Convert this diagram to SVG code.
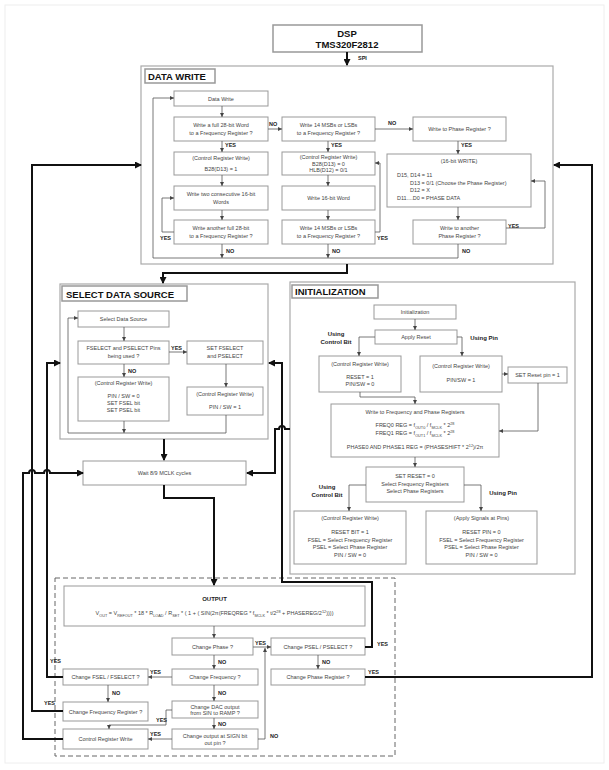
<svg xmlns="http://www.w3.org/2000/svg" width="609" height="770" viewBox="0 0 609 770">
<defs>
<marker id="a" markerUnits="userSpaceOnUse" markerWidth="4" markerHeight="4" refX="4" refY="2" orient="auto"><path d="M0,0 L4,2 L0,4 z" fill="#444"/></marker>
<marker id="A" markerUnits="userSpaceOnUse" markerWidth="7" markerHeight="7" refX="6" refY="3.5" orient="auto"><path d="M0,0 L7,3.5 L0,7 z" fill="#111"/></marker>
<style>
.bx{fill:#fff;stroke:#999;stroke-width:1}
.fr{fill:none;stroke:#aaa;stroke-width:1.2}
.tb{fill:#fff;stroke:#999;stroke-width:1.5}
.t{font-family:"Liberation Sans",Arial,sans-serif;font-size:5.5px;fill:#444;text-anchor:middle}
.tl{font-family:"Liberation Sans",Arial,sans-serif;font-size:5.5px;fill:#444}
.l{font-family:"Liberation Sans",Arial,sans-serif;font-size:5.5px;font-weight:bold;fill:#222}
.lc{font-family:"Liberation Sans",Arial,sans-serif;font-size:6px;font-weight:bold;fill:#222;text-anchor:middle}
.ti{font-family:"Liberation Sans",Arial,sans-serif;font-size:9.5px;font-weight:bold;fill:#111}
.c{fill:none;stroke:#555;stroke-width:0.8;marker-end:url(#a)}
.cn{fill:none;stroke:#555;stroke-width:0.8}
.k{fill:none;stroke:#111;stroke-width:2;marker-end:url(#A)}
.s{font-size:3.8px}
</style>
</defs>
<rect x="0" y="0" width="609" height="770" fill="#fff"/>
<rect x="5" y="5" width="599" height="758" fill="none" stroke="#eee" stroke-width="1"/>

<g id="dsp"><rect class="tb" x="273" y="25" width="149" height="27"/><text class="ti" x="347" y="37" text-anchor="middle">DSP</text><text class="ti" x="347" y="48" text-anchor="middle">TMS320F2812</text></g>

<g id="data-write-frame"><rect class="fr" x="141" y="66" width="412" height="198"/><rect class="tb" x="145" y="69" width="70" height="14"/><text class="ti" x="148" y="80" font-size="9">DATA WRITE</text></g>
<g id="dw-start"><rect class="bx" x="174" y="91" width="94" height="15"/><text class="t" x="221" y="100.5">Data Write</text></g>
<g id="dw-q1"><rect class="bx" x="174" y="117" width="94" height="24"/><text class="t" x="221" y="127">Write a full 28-bit Word</text><text class="t" x="221" y="134.5">to a Frequency Register ?</text></g>
<g id="dw-q2"><rect class="bx" x="282" y="117" width="93" height="24"/><text class="t" x="328.5" y="127">Write 14 MSBs or LSBs</text><text class="t" x="328.5" y="134.5">to a Frequency Register ?</text></g>
<g id="dw-q3"><rect class="bx" x="413" y="117" width="93" height="24"/><text class="t" x="459.5" y="131">Write to Phase Register ?</text></g>
<g id="dw-c1"><rect class="bx" x="174" y="152" width="94" height="23"/><text class="t" x="221" y="159.5">(Control Register Write)</text><text class="t" x="221" y="171">B28(D13) = 1</text></g>
<g id="dw-c2"><rect class="bx" x="282" y="152" width="93" height="23"/><text class="t" x="328.5" y="159">(Control Register Write)</text><text class="t" x="328.5" y="165.5">B28(D13) = 0</text><text class="t" x="328.5" y="172">HLB(D12) = 0/1</text></g>
<g id="dw-16bit"><rect class="bx" x="387" y="154" width="144" height="53"/><text class="t" x="459" y="163">(16-bit WRITE)</text><text class="tl" x="397" y="177">D15, D14 = 11</text><text class="tl" x="410" y="184.5">D13 = 0/1 (Choose the Phase Register)</text><text class="tl" x="410" y="192">D12 = X</text><text class="tl" x="397" y="199.5">D11....D0 = PHASE DATA</text></g>
<g id="dw-w1"><rect class="bx" x="174" y="186" width="94" height="24"/><text class="t" x="221" y="196">Write two consecutive 16-bit</text><text class="t" x="221" y="203.5">Words</text></g>
<g id="dw-w2"><rect class="bx" x="282" y="186" width="93" height="24"/><text class="t" x="328.5" y="200">Write 16-bit Word</text></g>
<g id="dw-a1"><rect class="bx" x="174" y="220" width="94" height="24"/><text class="t" x="221" y="230">Write another full 28-bit</text><text class="t" x="221" y="237.5">to a Frequency Register ?</text></g>
<g id="dw-a2"><rect class="bx" x="282" y="220" width="93" height="24"/><text class="t" x="328.5" y="230">Write 14 MSBs or LSBs</text><text class="t" x="328.5" y="237.5">to a Frequency Register ?</text></g>
<g id="dw-a3"><rect class="bx" x="413" y="220" width="93" height="24"/><text class="t" x="459.5" y="230">Write to another</text><text class="t" x="459.5" y="237.5">Phase Register ?</text></g>

<g id="sds-frame"><rect class="fr" x="60" y="284" width="208" height="155"/><rect class="tb" x="62" y="286" width="125" height="15"/><text class="ti" x="66" y="297.5" font-size="9">SELECT DATA SOURCE</text></g>
<g id="sds-start"><rect class="bx" x="78" y="311" width="91" height="16"/><text class="t" x="123.5" y="321">Select Data Source</text></g>
<g id="sds-q"><rect class="bx" x="78" y="341" width="91" height="23"/><text class="t" x="123.5" y="350">FSELECT and PSELECT Pins</text><text class="t" x="123.5" y="357.5">being used ?</text></g>
<g id="sds-set"><rect class="bx" x="187" y="341" width="76" height="23"/><text class="t" x="225" y="350">SET FSELECT</text><text class="t" x="225" y="357.5">and PSELECT</text></g>
<g id="sds-crw0"><rect class="bx" x="78" y="377" width="91" height="44"/><text class="t" x="123.5" y="385">(Control Register Write)</text><text class="t" x="123.5" y="398">PIN / SW = 0</text><text class="t" x="123.5" y="405">SET FSEL bit</text><text class="t" x="123.5" y="412">SET PSEL bit</text></g>
<g id="sds-crw1"><rect class="bx" x="187" y="387" width="76" height="28"/><text class="t" x="225" y="395.5">(Control Register Write)</text><text class="t" x="225" y="408.5">PIN / SW = 1</text></g>

<g id="wait"><rect class="bx" x="83" y="461" width="163" height="24"/><text class="t" x="164.5" y="475">Wait 8/9 MCLK cycles</text></g>

<g id="init-frame"><rect class="fr" x="290" y="282" width="285" height="292"/><rect class="tb" x="292" y="285" width="86" height="13"/><text class="ti" x="295" y="295" font-size="8.5">INITIALIZATION</text></g>
<g id="init-start"><rect class="bx" x="374" y="305" width="82" height="14"/><text class="t" x="415" y="314">Initialization</text></g>
<g id="init-reset"><rect class="bx" x="375" y="330" width="82" height="14"/><text class="t" x="416" y="339">Apply Reset</text></g>
<g id="init-crA"><rect class="bx" x="319" y="356" width="82" height="36"/><text class="t" x="360" y="365.5">(Control Register Write)</text><text class="t" x="360" y="379">RESET = 1</text><text class="t" x="360" y="386">PIN/SW = 0</text></g>
<g id="init-crB"><rect class="bx" x="420" y="356" width="82" height="36"/><text class="t" x="461" y="368">(Control Register Write)</text><text class="t" x="461" y="382">PIN/SW = 1</text></g>
<g id="init-pin"><rect class="bx" x="508" y="367" width="59" height="16"/><text class="t" x="537.5" y="377">SET Reset pin = 1</text></g>
<g id="init-write"><rect class="bx" x="331" y="404" width="168" height="53"/><text class="t" x="415" y="414">Write to Frequency and Phase Registers</text>
<text class="t" x="415" y="427">FREQ0  REG = f<tspan class="s" baseline-shift="sub">OUT0</tspan> / f<tspan class="s" baseline-shift="sub">MCLK</tspan> * 2<tspan class="s" baseline-shift="super">28</tspan></text>
<text class="t" x="415" y="434.5">FREQ1  REG = f<tspan class="s" baseline-shift="sub">OUT1</tspan> / f<tspan class="s" baseline-shift="sub">MCLK</tspan> * 2<tspan class="s" baseline-shift="super">28</tspan></text>
<text class="t" x="415" y="449">PHASE0 AND PHASE1 REG = (PHASESHIFT * 2<tspan class="s" baseline-shift="super">12</tspan>)/2π</text></g>
<g id="init-set0"><rect class="bx" x="366" y="467" width="98" height="35"/><text class="t" x="415" y="478">SET RESET = 0</text><text class="t" x="415" y="485.5">Select Frequency Registers</text><text class="t" x="415" y="493">Select Phase Registers</text></g>
<g id="init-crC"><rect class="bx" x="294" y="511" width="112" height="53"/><text class="t" x="350" y="520">(Control Register Write)</text><text class="t" x="350" y="534">RESET BIT = 1</text><text class="t" x="350" y="541.5">FSEL = Select Frequency Register</text><text class="t" x="350" y="549">PSEL = Select Phase Register</text><text class="t" x="350" y="556.5">PIN / SW = 0</text></g>
<g id="init-pins"><rect class="bx" x="426" y="511" width="111" height="53"/><text class="t" x="481.5" y="520">(Apply Signals at Pins)</text><text class="t" x="481.5" y="534">RESET PIN = 0</text><text class="t" x="481.5" y="541.5">FSEL = Select Frequency Register</text><text class="t" x="481.5" y="549">PSEL = Select Phase Register</text><text class="t" x="481.5" y="556.5">PIN / SW = 0</text></g>

<g id="output-frame"><rect x="55" y="578" width="340" height="178" fill="none" stroke="#666" stroke-width="1" stroke-dasharray="5,3"/></g>
<g id="output"><rect class="bx" x="64" y="586" width="301" height="40"/><text class="lc" x="214.5" y="601">OUTPUT</text>
<text class="t" x="214.5" y="614.5">V<tspan class="s" baseline-shift="sub">OUT</tspan> = V<tspan class="s" baseline-shift="sub">REFOUT</tspan> * 18 * R<tspan class="s" baseline-shift="sub">LOAD</tspan> / R<tspan class="s" baseline-shift="sub">SET</tspan> * ( 1 + ( SIN(2π(FREQREG * f<tspan class="s" baseline-shift="sub">MCLK</tspan> * t/2<tspan class="s" baseline-shift="super">28</tspan> + PHASEREG/2<tspan class="s" baseline-shift="super">12</tspan>))))</text></g>
<g id="out-phase"><rect class="bx" x="172" y="638" width="81" height="17"/><text class="t" x="212.5" y="648.5">Change Phase ?</text></g>
<g id="out-psel"><rect class="bx" x="271" y="638" width="94" height="17"/><text class="t" x="318" y="648.5">Change PSEL / PSELECT ?</text></g>
<g id="out-freq"><rect class="bx" x="172" y="669" width="86" height="16"/><text class="t" x="215" y="679">Change Frequency ?</text></g>
<g id="out-phreg"><rect class="bx" x="271" y="669" width="94" height="16"/><text class="t" x="318" y="679">Change Phase Register ?</text></g>
<g id="out-fsel"><rect class="bx" x="63" y="669" width="85" height="16"/><text class="t" x="105.5" y="679">Change FSEL / FSELECT ?</text></g>
<g id="out-freqreg"><rect class="bx" x="63" y="702" width="85" height="19"/><text class="t" x="105.5" y="713.5">Change Frequency Register ?</text></g>
<g id="out-dac"><rect class="bx" x="172" y="701" width="86" height="17"/><text class="t" x="215" y="708.5">Change DAC output</text><text class="t" x="215" y="715">from SIN to RAMP ?</text></g>
<g id="out-sign"><rect class="bx" x="172" y="729" width="86" height="20"/><text class="t" x="215" y="737.5">Change output at SIGN bit</text><text class="t" x="215" y="745">out pin ?</text></g>
<g id="out-crw"><rect class="bx" x="63" y="729" width="85" height="20"/><text class="t" x="105.5" y="741">Control Register Write</text></g>

<g id="connectors">
<path class="k" d="M347,52 V65"/>
<text class="l" x="358" y="60" font-size="5">SPI</text>
<!-- data write -->
<path class="c" d="M222,106 V117"/>
<path class="c" d="M268,129 H282"/>
<path class="c" d="M375,129 H413"/>
<path class="c" d="M222,141 V152"/>
<path class="c" d="M328,141 V152"/>
<path class="c" d="M458,141 V154"/>
<path class="c" d="M222,175 V186"/>
<path class="c" d="M328,175 V186"/>
<path class="c" d="M458,207 V220"/>
<path class="c" d="M222,210 V220"/>
<path class="c" d="M328,210 V220"/>
<path class="c" d="M174,232 H162 V198 H174"/>
<path class="c" d="M375,232 H380 V163 H375"/>
<path class="c" d="M506,228 H545 V181 H531"/>
<path class="c" d="M222,244 V258"/>
<path class="c" d="M328,244 V258"/>
<path class="c" d="M458,244 V258 H153 V98 H174"/>
<text class="l" x="269" y="126">NO</text>
<text class="l" x="388" y="125">NO</text>
<text class="l" x="225" y="147">YES</text>
<text class="l" x="331" y="147">YES</text>
<text class="l" x="461" y="147">YES</text>
<text class="l" x="160" y="240">YES</text>
<text class="l" x="377" y="240">YES</text>
<text class="l" x="508" y="228">YES</text>
<text class="l" x="226" y="253">NO</text>
<text class="l" x="332" y="253">NO</text>
<text class="l" x="462" y="253">NO</text>
<path class="k" d="M347,264 V273 H163 V283"/>
<!-- select data source -->
<path class="c" d="M124,327 V341"/>
<path class="c" d="M169,352 H187"/>
<path class="c" d="M124,364 V377"/>
<path class="c" d="M226,364 V387"/>
<path class="c" d="M124,421 V433"/>
<path class="c" d="M226,415 V433 H68 V318 H78"/>
<text class="l" x="171" y="350">YES</text>
<text class="l" x="128" y="373">NO</text>
<path class="k" d="M164,439 V460"/>
<!-- initialization -->
<path class="c" d="M415,319 V330"/>
<path class="c" d="M375,337 H359 V356"/>
<path class="c" d="M457,337 H462 V356"/>
<path class="c" d="M502,374 H508"/>
<path class="c" d="M538,383 V431 H499"/>
<path class="c" d="M360,392 V397 H415 V404"/>
<path class="c" d="M415,457 V467"/>
<path class="c" d="M366,485 H349 V511"/>
<path class="c" d="M464,485 H481 V511"/>
<text class="lc" x="336" y="336">Using</text>
<text class="lc" x="336" y="343.5">Control Bit</text>
<text class="lc" x="484" y="339.5">Using Pin</text>
<text class="lc" x="327" y="489">Using</text>
<text class="lc" x="327" y="496.5">Control Bit</text>
<text class="lc" x="503" y="494.5">Using Pin</text>
<path class="k" d="M290,429 H285 A3,3 0 0 0 279,429 H275 V473 H247"/>
<!-- wait to output -->
<path class="k" d="M164,485 V498 H214 V585"/>
<!-- output -->
<path class="c" d="M214,626 V638"/>
<path class="c" d="M253,647 H271"/>
<path class="c" d="M214,655 V669"/>
<path class="c" d="M318,655 V669"/>
<path class="c" d="M172,677 H148"/>
<path class="c" d="M108,685 V702"/>
<path class="c" d="M214,685 V701"/>
<path class="c" d="M172,710 H166 V725 H109 V729"/>
<path class="c" d="M214,718 V729"/>
<path class="c" d="M172,739 H148"/>
<path class="c" d="M258,739 H265 V648"/>
<text class="l" x="255" y="645">YES</text>
<text class="l" x="218" y="664">NO</text>
<text class="l" x="322" y="664">NO</text>
<text class="l" x="150" y="674">YES</text>
<text class="l" x="112" y="695">NO</text>
<text class="l" x="218" y="695">NO</text>
<text class="l" x="156" y="722">YES</text>
<text class="l" x="218" y="726">NO</text>
<text class="l" x="150" y="736">YES</text>
<text class="l" x="270" y="738">NO</text>
<!-- thick feedback -->
<path class="k" d="M365,647 H372 V582 H282 V363 H269"/>
<text class="l" x="377" y="646">YES</text>
<path class="k" d="M365,677 H592 V165 H554"/>
<text class="l" x="368" y="674">YES</text>
<path class="k" d="M63,677 H47 V363 H60"/>
<text class="l" x="50" y="663">YES</text>
<path class="k" d="M63,711 H32 V165 H141"/>
<text class="l" x="44" y="705">YES</text>
<path class="k" d="M63,739 H23 V473 H29 A3,3 0 0 1 35,473 H44 A3,3 0 0 1 50,473 H83"/>
</g>
</svg>
